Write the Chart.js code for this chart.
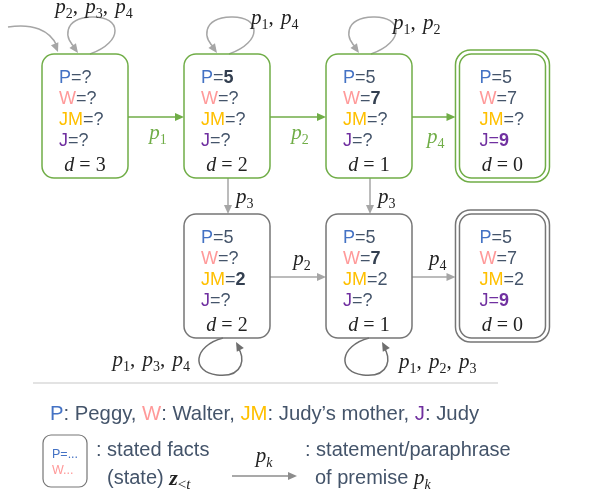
<!DOCTYPE html>
<html>
<head>
<meta charset="utf-8">
<script src="https://cdn.jsdelivr.net/npm/chart.js@4.4.1/dist/chart.umd.min.js"></script>
<style>
  html, body { margin: 0; padding: 0; background: #ffffff; }
  #diagram { display: block; }
</style>
</head>
<body>
<canvas id="diagram" width="601" height="494"></canvas>
<script>
// ===================================
// Reasoning states diagram (Chart.js scatter + draw plugin)
// ===================================

// States: grid column / row, known facts, remaining depth
const stateCol = [0, 1, 2, 2.94, 1, 2, 2.94];
const stateRow = [0, 0, 0, 0, 1, 1, 1];
const factP  = ['?', '5', '5', '5', '5', '5', '5'];
const factW  = ['?', '?', '7', '7', '?', '7', '7'];
const factJM = ['?', '?', '?', '?', '2', '2', '2'];
const factJ  = ['?', '?', '?', '9', '?', '?', '9'];
const newFact = ['', 'P', 'W', 'J', 'JM', 'W', 'J'];
const depth  = [3, 2, 1, 0, 2, 1, 0];
const onPath = [true, true, true, true, false, false, false];
const isGoal = [false, false, false, true, false, false, true];

// Transitions between states
const edgeFrom  = [0, 1, 2, 1, 2, 4, 5];
const edgeTo    = [1, 2, 3, 4, 5, 5, 6];
const edgeLabel = ['p_1', 'p_2', 'p_4', 'p_3', 'p_3', 'p_2', 'p_4'];

// Self loops (premises that change nothing)
const loopState = [0, 1, 2, 4, 5];
const loopLabel = ['p_2, p_3, p_4', 'p_1, p_4', 'p_1, p_2', 'p_1, p_3, p_4', 'p_1, p_2, p_3'];

// Legend texts
const entityKeys  = ['P', 'W', 'JM', 'J'];
const entityNames = ['Peggy', 'Walter', 'Judy\u2019s mother', 'Judy'];

const COLORS = {
    P: '#4472c4', W: '#ff9999', JM: '#ffc000', J: '#7030a0',
    text: '#44546a', bold: '#333f50', green: '#70ad47',
    gray: '#a6a6a6', box: '#767676', loop: '#6e6e6e', rule: '#c8c8c8', math: '#222222'
};
const SANS = '"Liberation Sans", Arial, sans-serif';
const SERIF = '"Liberation Serif", "Times New Roman", serif';
const BOX_W = 86, BOX_H = 124, RADIUS = 12;

// Draw text like "p_1, p_3" with italic letters and subscripts
function mathParts(str) {
    const parts = [];
    for (let i = 0; i < str.length; i++) {
        let ch = str[i];
        let sub = false;
        if (ch === '_') { sub = true; i++; ch = str[i]; }
        parts.push({ ch: ch, sub: sub, italic: /[a-z]/.test(ch) });
    }
    return parts;
}

function mathFont(p, size, bold) {
    const s = p.sub ? Math.round(size * 0.68) : size;
    return (p.italic ? 'italic ' : '') + (bold && !p.sub ? 'bold ' : '') + s + 'px ' + SERIF;
}

function drawMath(ctx, str, x, y, align, size, color, bold) {
    const parts = mathParts(str);
    ctx.save();
    ctx.textBaseline = 'alphabetic';
    ctx.textAlign = 'left';
    let width = 0;
    parts.forEach(p => {
        ctx.font = mathFont(p, size, bold);
        p.w = ctx.measureText(p.ch).width + (p.ch === ',' ? 2 : 0);
        width += p.w;
    });
    let cx = align === 'center' ? x - width / 2 : (align === 'right' ? x - width : x);
    const base = y + size * 0.3;
    ctx.fillStyle = color;
    parts.forEach(p => {
        ctx.font = mathFont(p, size, bold);
        ctx.fillText(p.ch, cx, p.sub ? base + size * 0.22 : base);
        cx += p.w;
    });
    ctx.restore();
    return width;
}

// Draw a run of coloured sans pieces, returns end x
function drawRun(ctx, pieces, x, y, size) {
    ctx.textBaseline = 'middle';
    ctx.textAlign = 'left';
    pieces.forEach(p => {
        ctx.font = (p.bold ? 'bold ' : '') + size + 'px ' + SANS;
        ctx.fillStyle = p.color;
        ctx.fillText(p.text, x, y);
        x += ctx.measureText(p.text).width;
    });
    return x;
}

function roundBox(ctx, x, y, w, h, r) {
    ctx.beginPath();
    ctx.roundRect(x, y, w, h, r);
    ctx.stroke();
}

function arrowHead(ctx, tx, ty, fx, fy, color) {
    const a = Math.atan2(ty - fy, tx - fx);
    const len = 9, half = 4;
    ctx.save();
    ctx.fillStyle = color;
    ctx.beginPath();
    ctx.moveTo(tx, ty);
    ctx.lineTo(tx - len * Math.cos(a) + half * Math.sin(a), ty - len * Math.sin(a) - half * Math.cos(a));
    ctx.lineTo(tx - len * Math.cos(a) - half * Math.sin(a), ty - len * Math.sin(a) + half * Math.cos(a));
    ctx.closePath();
    ctx.fill();
    ctx.restore();
}

function arrowLine(ctx, x1, y1, x2, y2, color) {
    const a = Math.atan2(y2 - y1, x2 - x1);
    ctx.save();
    ctx.strokeStyle = color;
    ctx.lineWidth = 1.5;
    ctx.beginPath();
    ctx.moveTo(x1, y1);
    ctx.lineTo(x2 - 7 * Math.cos(a), y2 - 7 * Math.sin(a));
    ctx.stroke();
    ctx.restore();
    arrowHead(ctx, x2, y2, x1, y1, color);
}

const diagramPlugin = {
    id: 'diagram',
    afterDatasetsDraw(chart) {
        const ctx = chart.ctx;
        const pts = chart.getDatasetMeta(0).data;

        // incoming arrow to the start state
        const s0 = pts[0];
        ctx.save();
        ctx.strokeStyle = COLORS.gray;
        ctx.lineWidth = 1.5;
        ctx.beginPath();
        ctx.moveTo(8, 27);
        ctx.bezierCurveTo(32, 23, 50, 30, s0.x - 28, s0.y - BOX_H / 2 - 8);
        ctx.stroke();
        ctx.restore();
        arrowHead(ctx, s0.x - 27, s0.y - BOX_H / 2 - 2, s0.x - 31, s0.y - BOX_H / 2 - 12, COLORS.gray);

        // self loops
        loopState.forEach((si, i) => {
            const p = pts[si];
            const top = stateRow[si] === 0;
            ctx.save();
            ctx.strokeStyle = top ? COLORS.gray : COLORS.loop;
            ctx.lineWidth = 1.5;
            ctx.beginPath();
            if (top) {
                const ty = p.y - BOX_H / 2;
                const sx = p.x + (si === 0 ? 5 : 2);
                ctx.moveTo(sx, ty);
                ctx.bezierCurveTo(sx + 34, ty - 12, sx + 32, ty - 38, sx + 2, ty - 37);
                ctx.bezierCurveTo(sx - 28, ty - 36, sx - 26, ty - 14, sx - 14, ty - 6);
                ctx.stroke();
                ctx.restore();
                arrowHead(ctx, sx - 12, ty - 1, sx - 20, ty - 12, COLORS.gray);
                if (si === 0) drawMath(ctx, loopLabel[i], p.x + 9, 7, 'center', 21, COLORS.math);
                else drawMath(ctx, loopLabel[i], sx + 22, ty - 36 + (si === 2 ? 5 : 0), 'left', 21, COLORS.math);
            } else {
                const by = p.y + BOX_H / 2;
                const sx = p.x - (si === 4 ? 4 : 0);
                ctx.moveTo(sx, by);
                ctx.bezierCurveTo(sx - 30, by + 8, sx - 32, by + 34, sx - 6, by + 37);
                ctx.bezierCurveTo(sx + 22, by + 40, sx + 22, by + 18, sx + 15, by + 10);
                ctx.stroke();
                ctx.restore();
                arrowHead(ctx, sx + 13, by + 4, sx + 19, by + 15, COLORS.loop);
                if (si === 4) drawMath(ctx, loopLabel[i], sx - 33, by + 22, 'right', 21, COLORS.math);
                else drawMath(ctx, loopLabel[i], sx + 30, by + 24, 'left', 21, COLORS.math);
            }
        });

        // transitions
        edgeFrom.forEach((f, i) => {
            const a = pts[f], b = pts[edgeTo[i]];
            const green = onPath[f] && onPath[edgeTo[i]];
            const color = green ? COLORS.green : COLORS.gray;
            if (stateRow[f] === stateRow[edgeTo[i]]) {
                const y = a.y + 1;
                const x1 = a.x + BOX_W / 2, x2 = b.x - BOX_W / 2 - (isGoal[edgeTo[i]] ? 4 : 0);
                arrowLine(ctx, x1, y, x2, y, color);
                if (green) drawMath(ctx, edgeLabel[i], (x1 + x2) / 2 + 2, y + 16 + (isGoal[edgeTo[i]] ? 4 : 0), 'center', 21, color);
                else drawMath(ctx, edgeLabel[i], (x1 + x2) / 2 + 4, y - 18, 'center', 21, COLORS.math);
            } else {
                const x = a.x + 1;
                const y1 = a.y + BOX_H / 2, y2 = b.y - BOX_H / 2;
                arrowLine(ctx, x, y1, x, y2, color);
                drawMath(ctx, edgeLabel[i], x + 8, (y1 + y2) / 2 + 1, 'left', 21, COLORS.math);
            }
        });

        // state boxes
        pts.forEach((p, i) => {
            const left = p.x - BOX_W / 2, topY = p.y - BOX_H / 2;
            ctx.save();
            ctx.lineWidth = 1.5;
            ctx.strokeStyle = onPath[i] ? COLORS.green : COLORS.box;
            if (isGoal[i]) {
                roundBox(ctx, left - 4, topY - 4, BOX_W + 8, BOX_H + 8, RADIUS + 3);
                roundBox(ctx, left, topY, BOX_W, BOX_H, RADIUS);
            } else {
                roundBox(ctx, left, topY, BOX_W, BOX_H, RADIUS);
            }
            ctx.restore();

            const values = [factP[i], factW[i], factJM[i], factJ[i]];
            const tx = left + 17 + (isGoal[i] ? 3 : 0);
            entityKeys.forEach((k, j) => {
                const fresh = newFact[i] === k;
                const purple = fresh && k === 'J';
                drawRun(ctx, [
                    { text: k, color: COLORS[k] },
                    { text: '=', color: purple ? COLORS.J : COLORS.text },
                    { text: values[j], color: purple ? COLORS.J : (fresh ? COLORS.bold : COLORS.text), bold: fresh }
                ], tx, topY + 24 + j * 21, 18);
            });
            drawMath(ctx, 'd = ' + depth[i], p.x, topY + 111, 'center', 20, COLORS.math);
        });

        // separator
        ctx.save();
        ctx.strokeStyle = COLORS.rule;
        ctx.lineWidth = 1.2;
        ctx.beginPath();
        ctx.moveTo(33, 383);
        ctx.lineTo(498, 383);
        ctx.stroke();
        ctx.restore();

        // legend line 1
        const pieces = [];
        entityKeys.forEach((k, j) => {
            pieces.push({ text: k, color: COLORS[k] });
            pieces.push({ text: ': ' + entityNames[j] + (j < entityKeys.length - 1 ? ', ' : ''), color: COLORS.text });
        });
        drawRun(ctx, pieces, 50, 414, 20.3);

        // legend line 2: state box key
        ctx.save();
        ctx.strokeStyle = COLORS.box;
        ctx.lineWidth = 1.2;
        roundBox(ctx, 43, 435, 44, 52, 8);
        ctx.restore();
        drawRun(ctx, [{ text: 'P=...', color: COLORS.P }], 52, 455, 12.5);
        drawRun(ctx, [{ text: 'W...', color: COLORS.W }], 52, 471, 12.5);
        drawRun(ctx, [{ text: ': stated facts', color: COLORS.text }], 96, 450, 20);
        const ex = drawRun(ctx, [{ text: '(state) ', color: COLORS.text }], 107, 478, 20);
        const zw = drawMath(ctx, 'z', ex, 478, 'left', 22, COLORS.math, true);
        drawMath(ctx, '_<_t', ex + zw, 478, 'left', 22, COLORS.math);

        // legend line 2: transition key
        arrowLine(ctx, 232, 476, 297, 476, '#8c8c8c');
        drawMath(ctx, 'p_k', 264, 456, 'center', 21, COLORS.math);
        drawRun(ctx, [{ text: ': statement/paraphrase', color: COLORS.text }], 305, 450, 20);
        const px = drawRun(ctx, [{ text: 'of premise ', color: COLORS.text }], 315, 478, 20);
        drawMath(ctx, 'p_k', px, 478, 'left', 21, COLORS.math);
    }
};

const chart = new Chart(document.getElementById('diagram'), {
    type: 'scatter',
    data: {
        datasets: [{
            data: stateCol.map((c, i) => ({ x: c, y: stateRow[i] })),
            pointRadius: 0,
            pointHoverRadius: 0
        }]
    },
    options: {
        responsive: false,
        animation: false,
        events: [],
        layout: { padding: 0 },
        plugins: { legend: { display: false }, tooltip: { enabled: false } },
        scales: {
            x: { type: 'linear', display: false, min: -85 / 142, max: (601 - 85) / 142 },
            y: { type: 'linear', display: false, reverse: true, min: -116 / 160, max: (494 - 116) / 160 }
        }
    },
    plugins: [diagramPlugin]
});
</script>
</body>
</html>
